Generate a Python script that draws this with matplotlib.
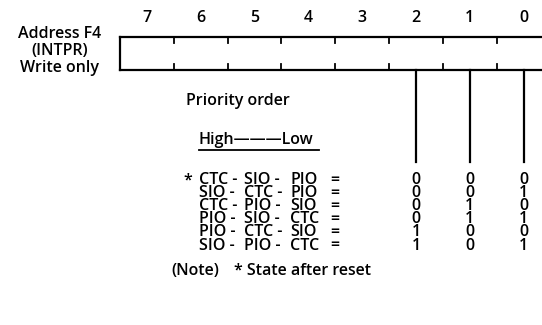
import matplotlib.pyplot as plt

plt.rcParams['font.family'] = ['Open Sans', 'DejaVu Sans']
plt.rcParams['font.weight'] = 'semibold'

bits = ['7', '6', '5', '4', '3', '2', '1', '0']
first = ['CTC', 'SIO', 'CTC', 'PIO', 'PIO', 'SIO']
second = ['SIO', 'CTC', 'PIO', 'SIO', 'CTC', 'PIO']
third = ['PIO', 'PIO', 'SIO', 'CTC', 'SIO', 'CTC']
bit2 = [0, 0, 0, 0, 1, 1]
bit1 = [0, 0, 1, 1, 0, 0]
bit0 = [0, 1, 0, 1, 0, 1]
reset_row = 0

fig = plt.figure(figsize=(5.42, 3.25), dpi=100)
ax = fig.add_axes([0, 0, 1, 1])
ax.set_xlim(0, 542)
ax.set_ylim(325, 0)
ax.axis('off')

fs = 11.5
lw = 1.6
k = 'black'

# register box
x0, cell = 120, 53.8
top, bot = 37, 70
ax.plot([x0, 542], [top, top], color=k, lw=lw)
ax.plot([x0, 542], [bot, bot], color=k, lw=lw)
ax.plot([x0, x0], [top, bot], color=k, lw=lw)
for i in range(1, 8):
    xx = x0 + i * cell
    ax.plot([xx, xx], [top, top + 6], color=k, lw=1.3)
    ax.plot([xx, xx], [bot - 6, bot], color=k, lw=1.3)
for i, b in enumerate(bits):
    ax.text(x0 + (i + 0.5) * cell, 18, b, fontsize=fs, ha='center', va='center')

ax.text(60, 34, 'Address F4', fontsize=fs, ha='center', va='center')
ax.text(60, 51, '(INTPR)', fontsize=fs, ha='center', va='center')
ax.text(60, 68, 'Write only', fontsize=fs, ha='center', va='center')

# lines from bits 2,1,0
cols = [x0 + (i + 0.5) * cell for i in (5, 6, 7)]
for xx in cols:
    ax.plot([xx, xx], [bot, 162], color=k, lw=lw)

ax.text(238, 101, 'Priority order', fontsize=fs, ha='center', va='center')
ax.text(199, 140, 'High———Low', fontsize=fs, ha='left', va='center')
ax.plot([199, 319], [150, 150], color=k, lw=1.3)

y0, dy = 180, 13.1
for r in range(len(first)):
    y = y0 + r * dy
    if r == reset_row:
        ax.text(188, y + 1, '*', fontsize=fs, ha='center', va='center')
    ax.text(199, y, first[r] + ' -', fontsize=fs, ha='left', va='center')
    ax.text(244, y, second[r] + ' -', fontsize=fs, ha='left', va='center')
    ax.text(290, y, third[r], fontsize=fs, ha='left', va='center')
    ax.text(330, y, '=', fontsize=fs, ha='left', va='center')
    for xx, v in zip(cols, (bit2[r], bit1[r], bit0[r])):
        ax.text(xx, y, str(v), fontsize=fs, ha='center', va='center')

ax.text(171, 271, '(Note)', fontsize=fs, ha='left', va='center')
ax.text(234, 271, '* State after reset', fontsize=fs, ha='left', va='center')

fig.savefig('out.png', dpi=100)
